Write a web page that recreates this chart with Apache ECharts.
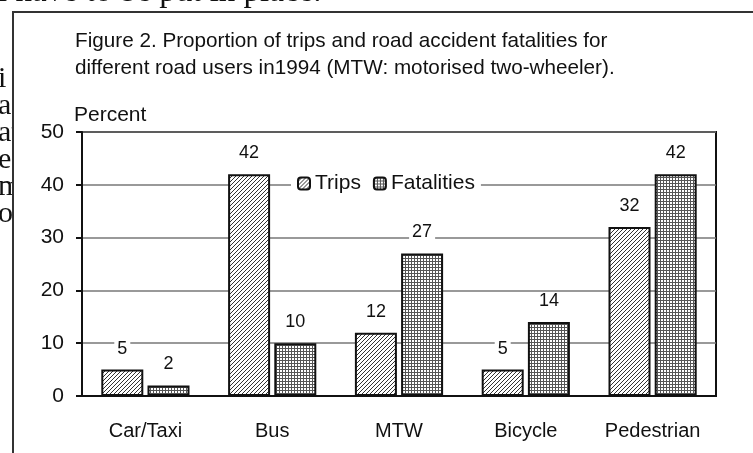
<!DOCTYPE html>
<html>
<head>
<meta charset="utf-8">
<script src="https://cdn.jsdelivr.net/npm/echarts@6/dist/echarts.min.js"></script>
<style>
  html, body { margin: 0; padding: 0; background: #fff; }
  #main { width: 753px; height: 453px; }
</style>
</head>
<body>
<div id="main"></div>
<script>
  var categories = ['Car/Taxi', 'Bus', 'MTW', 'Bicycle', 'Pedestrian'];
  var trips = [5, 42, 12, 5, 32];
  var fatalities = [2, 10, 27, 14, 42];
  var yMin = 0, yMax = 50, yStep = 10;

  // hatch patterns for the bars
  function hatch() {
    var c = document.createElement('canvas');
    c.width = 4; c.height = 4;
    var ctx = c.getContext('2d');
    ctx.fillStyle = '#fff';
    ctx.fillRect(0, 0, 4, 4);
    ctx.strokeStyle = '#333';
    ctx.lineWidth = 1;
    ctx.beginPath();
    ctx.moveTo(-1, 5); ctx.lineTo(5, -1);
    ctx.moveTo(-1, 1); ctx.lineTo(1, -1);
    ctx.moveTo(3, 5); ctx.lineTo(5, 3);
    ctx.stroke();
    return c;
  }
  function grid() {
    var c = document.createElement('canvas');
    c.width = 3; c.height = 3;
    var ctx = c.getContext('2d');
    ctx.fillStyle = '#fff';
    ctx.fillRect(0, 0, 3, 3);
    ctx.fillStyle = '#555';
    ctx.fillRect(0, 0, 3, 1);
    ctx.fillRect(0, 0, 1, 3);
    return c;
  }
  var tripsFill = {image: hatch(), repeat: 'repeat'};
  var fatalFill = {image: grid(), repeat: 'repeat'};

  var myChart = echarts.init(document.getElementById('main'));

  var valueLabel = {
    show: true,
    position: 'top',
    distance: 12,
    fontFamily: 'Liberation Sans, Arial',
    fontSize: 18,
    color: '#111',
    backgroundColor: '#fff',
    padding: [0, 3]
  };

  var option = {
    backgroundColor: '#fff',
    animation: false,
    title: {
      text: 'Figure 2. Proportion of trips and road accident fatalities for\ndifferent road users in1994 (MTW: motorised two-wheeler).',
      left: 70,
      top: 23,
      textStyle: {
        fontFamily: 'Liberation Sans, Arial',
        fontSize: 20.7,
        lineHeight: 27,
        fontWeight: 'normal',
        color: '#111'
      }
    },
    legend: {
      data: ['Trips', 'Fatalities'],
      left: 291,
      top: 172,
      itemWidth: 12,
      itemHeight: 12,
      itemGap: 12,
      backgroundColor: '#fff',
      padding: [1, 6],
      textStyle: {
        fontFamily: 'Liberation Sans, Arial',
        fontSize: 21,
        color: '#111'
      }
    },
    grid: {
      left: 82,
      right: 37,
      top: 132,
      bottom: 57,
      show: true,
      borderColor: '#111',
      borderWidth: 2
    },
    xAxis: {
      type: 'category',
      data: categories,
      axisLine: {lineStyle: {color: '#111', width: 2}},
      axisTick: {show: false},
      axisLabel: {
        interval: 0,
        margin: 25,
        fontFamily: 'Liberation Sans, Arial',
        fontSize: 20,
        color: '#111'
      }
    },
    yAxis: {
      type: 'value',
      min: yMin,
      max: yMax,
      interval: yStep,
      axisLine: {show: true, lineStyle: {color: '#111', width: 2}},
      axisTick: {show: true, length: 6, lineStyle: {color: '#111', width: 2}},
      axisLabel: {
        margin: 18,
        fontFamily: 'Liberation Sans, Arial',
        fontSize: 21,
        color: '#111'
      },
      splitLine: {lineStyle: {color: '#777', width: 1.5}}
    },
    graphic: [
      {
        type: 'text', left: 74, top: 105, z: 10,
        style: {text: 'Percent', font: '21px "Liberation Sans", Arial', fill: '#111'}
      },
      // surrounding document text, cut off by the figure box
      {
        type: 'text', left: -2, top: -24, z: -3,
        style: {text: 'l have to be put in place.', font: '33px "Liberation Serif", serif', fill: '#111'}
      },
      {
        type: 'text', left: -2, top: 64, z: -3,
        style: {text: 'i\na\nat\nes\nm\no', font: '30px "Liberation Serif", serif', lineHeight: 27, fill: '#111'}
      },
      {
        type: 'rect', z: -2,
        shape: {x: 13, y: 12, width: 760, height: 460},
        style: {fill: '#fff', stroke: '#333', lineWidth: 2}
      }
    ],
    series: [
      {
        name: 'Trips',
        type: 'bar',
        data: trips,
        barWidth: 42,
        barGap: '10%',
        itemStyle: {color: tripsFill, borderColor: '#111', borderWidth: 2},
        label: valueLabel
      },
      {
        name: 'Fatalities',
        type: 'bar',
        data: fatalities,
        barWidth: 42,
        itemStyle: {color: fatalFill, borderColor: '#111', borderWidth: 2},
        label: valueLabel
      }
    ]
  };
  myChart.setOption(option);
</script>
</body>
</html>
